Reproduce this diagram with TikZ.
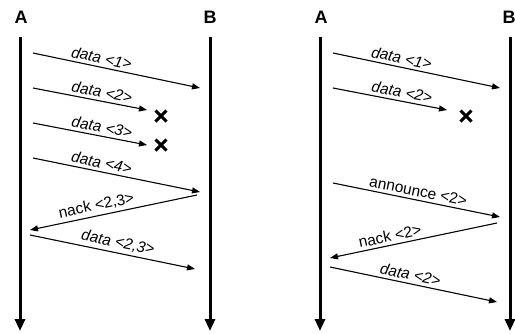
\documentclass[tikz,border=0pt]{standalone}
\usepackage{fontspec}
\setmainfont{Liberation Sans}
\usetikzlibrary{arrows.meta,calc}
\tikzset{
  lifeLine/.style={draw=black, line width=3pt, -{Triangle[length=12pt,width=10pt]}},
  msg/.style={draw=black, line width=1.1pt, -{Triangle[length=8pt,width=6pt]}},
  hostLbl/.style={font=\bfseries\fontsize{18}{20}\selectfont, inner sep=0pt},
  msgLbl/.style={font=\fontsize{15.5}{17}\selectfont, sloped, above, inner sep=3pt},
  dataLbl/.style={msgLbl, font=\itshape\fontsize{15.5}{17}\selectfont},
  lostMark/.style={draw=black, line width=3pt},
}
% a bold cross where a message gets lost
\newcommand{\LostAt}[1]{%
  \draw[lostMark] ($(#1)+(-5.5,-5.5)$) -- ($(#1)+(5.5,5.5)$);
  \draw[lostMark] ($(#1)+(-5.5,5.5)$) -- ($(#1)+(5.5,-5.5)$);
}

\begin{document}
\begin{tikzpicture}[x=1pt, y=-1pt]
  \useasboundingbox (0,0) rectangle (515,333);

  % hosts and their time lines
  \node[hostLbl] (A1) at (21,17)  {A};
  \node[hostLbl] (B1) at (210,17) {B};
  \node[hostLbl] (A2) at (321,17) {A};
  \node[hostLbl] (B2) at (509,17) {B};
  \foreach \h/\x in {A1/20, B1/210, A2/320, B2/510} {
    \coordinate (\h top) at (\x,37);
    \coordinate (\h end) at (\x,331);
    \draw[lifeLine] (\h top) -- (\h end);
  }

  % nack after loss
  \coordinate (m1s) at (33,53);   \coordinate (m1e) at (200,88);
  \coordinate (m2s) at (33,88);   \coordinate (m2e) at (147,110);
  \coordinate (m3s) at (33,123);  \coordinate (m3e) at (147,145);
  \coordinate (m4s) at (33,158);  \coordinate (m4e) at (200,192);
  \coordinate (n1s) at (197,195); \coordinate (n1e) at (30,230);
  \coordinate (r1s) at (30,235);  \coordinate (r1e) at (195,269);
  \coordinate (x2) at (161,116);
  \coordinate (x3) at (161,145);

  \draw[msg] (m1s) -- node[dataLbl, pos=0.4] {data <1>} (m1e);
  \draw[msg] (m2s) -- node[dataLbl, pos=0.59] {data <2>} (m2e);
  \LostAt{x2}
  \draw[msg] (m3s) -- node[dataLbl, pos=0.59] {data <3>} (m3e);
  \LostAt{x3}
  \draw[msg] (m4s) -- node[dataLbl, pos=0.4] {data <4>} (m4e);
  \draw[msg] (n1s) -- node[msgLbl, pos=0.59] {nack <2,3>} (n1e);
  \draw[msg] (r1s) -- node[dataLbl, pos=0.52] {data <2,3>} (r1e);

  % announce, then nack
  \coordinate (k1s) at (333,53);  \coordinate (k1e) at (500,88);
  \coordinate (k2s) at (333,88);  \coordinate (k2e) at (447,110);
  \coordinate (an1s) at (333,183); \coordinate (an1e) at (500,217);
  \coordinate (n2s) at (497,223); \coordinate (n2e) at (330,258);
  \coordinate (r2s) at (330,267); \coordinate (r2e) at (497,302);
  \coordinate (x4) at (466,116);

  \draw[msg] (k1s) -- node[dataLbl, pos=0.4] {data <1>} (k1e);
  \draw[msg] (k2s) -- node[dataLbl, pos=0.59] {data <2>} (k2e);
  \LostAt{x4}
  \draw[msg] (an1s) -- node[msgLbl, pos=0.5] {announce <2>} (an1e);
  \draw[msg] (n2s) -- node[msgLbl, pos=0.63] {nack <2>} (n2e);
  \draw[msg] (r2s) -- node[dataLbl, pos=0.47] {data <2>} (r2e);
\end{tikzpicture}
\end{document}
